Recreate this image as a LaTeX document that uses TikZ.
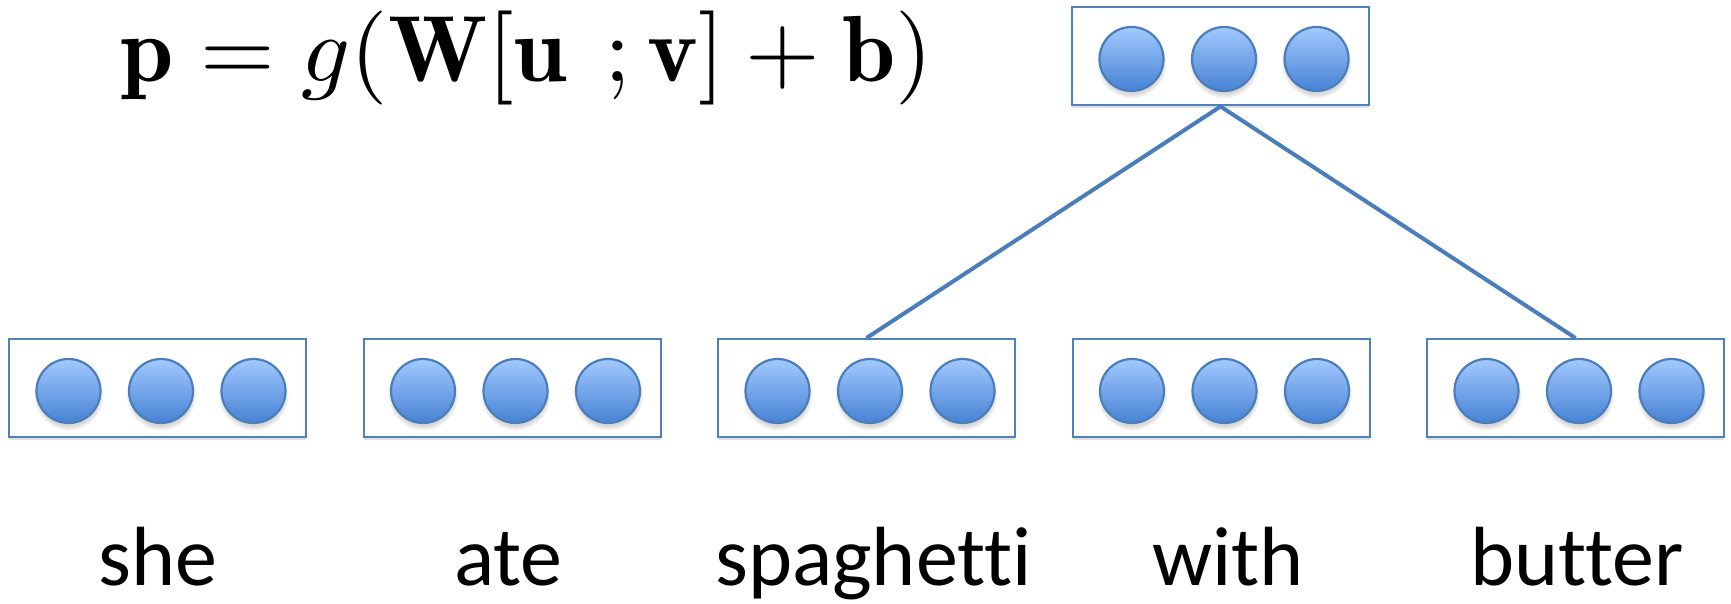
\documentclass[tikz,border=0pt]{standalone}
\usepackage{fontspec}
\newfontfamily\wordfont[Ligatures=NoCommon]{Carlito}
\usetikzlibrary{shadows}
\definecolor{edgeblue}{HTML}{4A7EBB}
\definecolor{boxblue}{HTML}{4F81BD}
\definecolor{topblue}{HTML}{A3C9FF}
\definecolor{botblue}{HTML}{4682D4}
\begin{document}
\begin{tikzpicture}[x=1pt,y=-1pt,
  layerbox/.style={draw=boxblue, line width=2pt, minimum width=297pt, minimum height=98pt, inner sep=0pt, fill=white,
    drop shadow={shadow xshift=0pt, shadow yshift=-3pt, opacity=0.12, fill=black}},
  unit/.style={circle, draw=edgeblue, line width=2.2pt, minimum size=64pt, inner sep=0pt, top color=topblue, bottom color=botblue,
    circular drop shadow={shadow xshift=0pt, shadow yshift=-4pt, opacity=0.25, fill=black!60}},
  word/.style={font=\wordfont\fontsize{84}{100}\selectfont, anchor=base, inner sep=0pt, text depth=0pt},
  edge/.style={draw=edgeblue, line width=4pt}]
\fill[white] (0,0) rectangle (1731,604);
\useasboundingbox (0,0) rectangle (1731,604);
\node[anchor=base west, inner sep=0pt] (eq) at (120,82)
  {\scalebox{9.6}[9.4]{$\mathbf{p} = g(\mathbf{W}[\mathbf{u}\mkern7mu;\mathbf{v}] + \mathbf{b})$}};
\foreach \n/\cx/\wx/\w in {she/157.5/158/she, ate/512/508.5/ate, spag/866.5/873.5/spaghetti, with/1221/1228/with, butter/1575.5/1577/butter} {
  \node[layerbox] (\n) at (\cx,388) {};
  \foreach \k/\dx in {1/-89,2/3.5,3/96}
    \node[unit] (\n-\k) at ([xshift=\dx pt, yshift=-3pt]\n.center) {};
  \node[word] (\n-word) at (\wx,585) {\w};
}
\node[layerbox] (top) at (1220.5,56.5) {};
\foreach \k/\dx in {1/-89,2/3.5,3/96}
  \node[unit] (top-\k) at ([xshift=\dx pt, yshift=-2.5pt]top.center) {};
\draw[edge] (spag.north) -- (top.south) -- (butter.north);
\end{tikzpicture}
\end{document}
